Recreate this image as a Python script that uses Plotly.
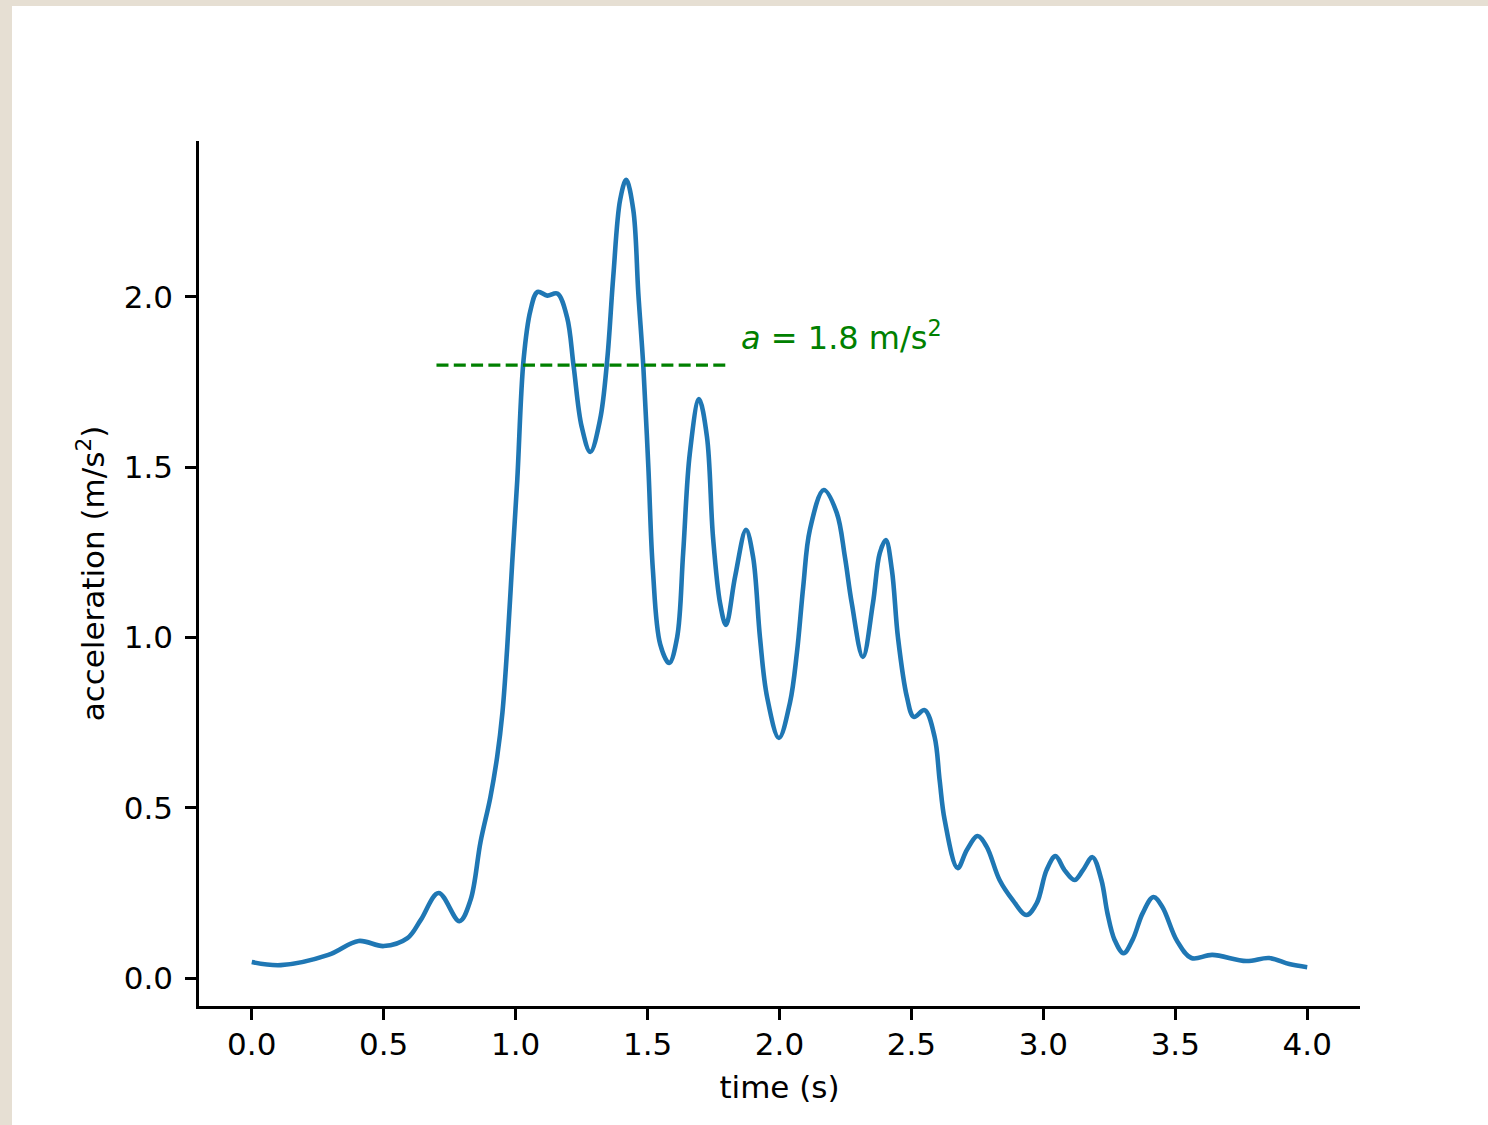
import plotly.graph_objects as go

# Data
time_s = [0.0, 0.11, 0.29, 0.405, 0.50, 0.59, 0.64, 0.708, 0.787, 0.829, 0.867,
          0.904, 0.93, 0.95, 0.968, 0.987, 1.006, 1.03, 1.056, 1.083, 1.12, 1.158, 1.195,
          1.22, 1.25, 1.283, 1.32, 1.347, 1.37, 1.396, 1.419, 1.446, 1.465, 1.484, 1.503,
          1.52, 1.548, 1.582, 1.612, 1.635, 1.66, 1.695, 1.725, 1.748, 1.775, 1.797, 1.832,
          1.873, 1.90, 1.926, 1.953, 1.998, 2.04, 2.066, 2.09, 2.115, 2.168, 2.217, 2.248,
          2.274, 2.316, 2.354, 2.38, 2.403, 2.426, 2.449, 2.483, 2.509, 2.55, 2.588, 2.607,
          2.626, 2.675, 2.71, 2.751, 2.785, 2.834, 2.884, 2.936, 2.975, 3.012, 3.046, 3.08,
          3.118, 3.15, 3.186, 3.22, 3.243, 3.27, 3.304, 3.338, 3.376, 3.417, 3.451, 3.506,
          3.561, 3.64, 3.769, 3.856, 3.932, 4.0]
accel = [0.047, 0.038, 0.068, 0.109, 0.094, 0.117, 0.17, 0.25, 0.167, 0.229, 0.40,
         0.53, 0.65, 0.78, 0.97, 1.22, 1.46, 1.815, 1.96, 2.015, 2.004, 2.01, 1.94,
         1.795, 1.62, 1.545, 1.64, 1.815, 2.06, 2.285, 2.344, 2.255, 2.01, 1.795, 1.50,
         1.20, 0.98, 0.925, 1.00, 1.25, 1.54, 1.70, 1.59, 1.295, 1.10, 1.037, 1.18,
         1.316, 1.236, 1.00, 0.825, 0.705, 0.81, 0.955, 1.15, 1.316, 1.433, 1.366, 1.236,
         1.10, 0.943, 1.10, 1.248, 1.286, 1.198, 1.00, 0.825, 0.767, 0.787, 0.708, 0.58,
         0.464, 0.323, 0.376, 0.417, 0.386, 0.288, 0.229, 0.185, 0.22, 0.317, 0.358, 0.317,
         0.288, 0.317, 0.355, 0.288, 0.19, 0.112, 0.073, 0.112, 0.19, 0.238, 0.209, 0.11,
         0.059, 0.068, 0.05, 0.059, 0.041, 0.032]

ref_t = [0.7, 1.8]
ref_a = [1.8, 1.8]
annot_text = "<i>a</i> = 1.8 m/s<sup>2</sup>"
annot_t = 1.848
annot_a = 1.885

x_ticks = [0.0, 0.5, 1.0, 1.5, 2.0, 2.5, 3.0, 3.5, 4.0]
y_ticks = [0.0, 0.5, 1.0, 1.5, 2.0]

FONT = "DejaVu Sans"
FS = 31

fig = go.Figure()
fig.add_trace(go.Scatter(x=time_s, y=accel, mode="lines",
                         line=dict(color="#1f77b4", width=4.6, shape="spline", smoothing=1.0),
                         showlegend=False, hoverinfo="skip"))
fig.add_trace(go.Scatter(x=ref_t, y=ref_a, mode="lines",
                         line=dict(color="green", width=3.3, dash="12px,5.3px"),
                         showlegend=False, hoverinfo="skip"))
fig.add_annotation(x=annot_t, y=annot_a, text=annot_text, showarrow=False,
                   xanchor="left", yanchor="middle",
                   font=dict(family=FONT, size=32, color="green"))

# Page geometry (pixels) -> paper coords
L, R, T, B = 199, 1360, 141, 1006
W, H = 1488, 1125
pw, ph = R - L, B - T
def px(x):
    return (x - L) / pw
def py(y):
    return (B - y) / ph

beige = "#e6dfd3"
fig.add_shape(type="rect", xref="paper", yref="paper",
              x0=px(-2), x1=px(12), y0=py(H + 2), y1=py(-2),
              fillcolor=beige, line=dict(width=0), layer="above")
fig.add_shape(type="rect", xref="paper", yref="paper",
              x0=px(-2), x1=px(W + 2), y0=py(6), y1=py(-2),
              fillcolor=beige, line=dict(width=0), layer="above")

axis_common = dict(showgrid=False, zeroline=False, showline=True, linecolor="black",
                   linewidth=2.6, ticks="outside", ticklen=11, tickwidth=2.6,
                   tickcolor="black", tickfont=dict(family=FONT, size=FS, color="black"),
                   mirror=False, tickformat=".1f")

fig.update_xaxes(range=[-0.2, 4.2], tickvals=x_ticks, ticklabelstandoff=-2,
                 title=dict(text="time (s)", font=dict(family=FONT, size=FS, color="black"),
                            standoff=16),
                 **axis_common)
fig.update_yaxes(range=[-0.082, 2.458], tickvals=y_ticks, ticklabelstandoff=6,
                 title=dict(text="acceleration (m/s<sup>2</sup>)",
                            font=dict(family=FONT, size=FS, color="black"), standoff=10),
                 **axis_common)

fig.update_layout(width=W, height=H, autosize=False,
                  margin=dict(l=L, r=W - R, t=T, b=H - B, pad=0),
                  paper_bgcolor="white", plot_bgcolor="white",
                  font=dict(family=FONT, size=FS, color="black"))

fig.write_html("out.html",
               config={"displayModeBar": False},
               post_script="document.body.style.margin='0';"
                           "document.body.style.padding='0';"
                           "document.body.style.overflow='hidden';")
